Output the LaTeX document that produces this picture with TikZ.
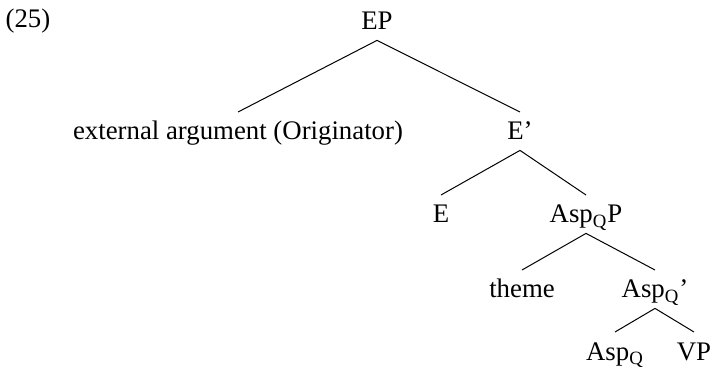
\documentclass[tikz,border=0pt]{standalone}
\usepackage{fontspec}
\setmainfont{Liberation Serif}
\usetikzlibrary{positioning}

\begin{document}
\begin{tikzpicture}[x=0.5pt, y=-0.5pt,
  cat/.style={inner xsep=0pt, inner ysep=5pt, text height=8.8pt, text depth=0pt, anchor=base, font=\fontsize{13.4}{16}\selectfont},
  branch/.style={line width=0.5pt}]
\useasboundingbox (0,0) rectangle (711,368);
\node[cat] (num) at (28,28) {(25)};
\node[cat] (ep) at (377,30) {EP};
\node[cat] (ext) at (238,140) {external argument (Originator)};
\node[cat] (ebar) at (520,140) {E’};
\node[cat] (e) at (441,223) {E};
\node[cat] (aspp) at (586,223) {Asp\textsubscript{Q}P};
\node[cat] (theme) at (522,298) {theme};
\node[cat] (aspbar) at (655,298) {Asp\textsubscript{Q}’};
\node[cat] (asp) at (615,360) {Asp\textsubscript{Q}};
\node[cat] (vp) at (694,360) {VP};
\draw[branch] (ep.south) -- (ext.north); \draw[branch] (ep.south) -- (ebar.north);
\draw[branch] (ebar.south) -- (e.north); \draw[branch] (ebar.south) -- (aspp.north);
\draw[branch] (aspp.south) -- (theme.north); \draw[branch] (aspp.south) -- (aspbar.north);
\draw[branch] (aspbar.south) -- (asp.north); \draw[branch] (aspbar.south) -- (vp.north);
\end{tikzpicture}
\end{document}
